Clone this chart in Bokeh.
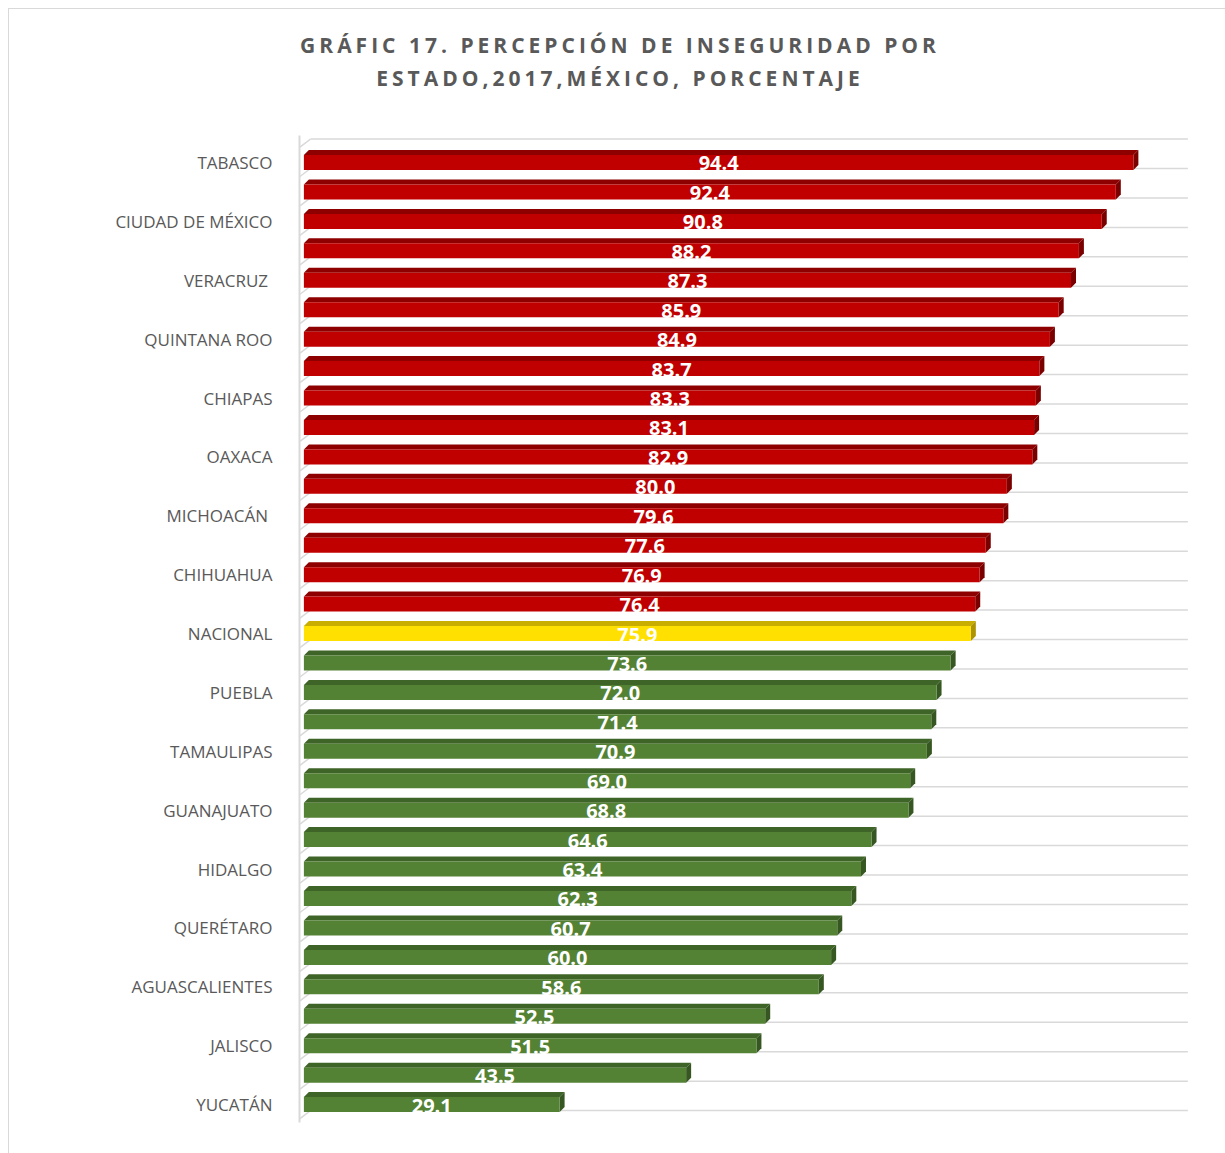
from bokeh.plotting import figure
from bokeh.models import Range1d, FixedTicker, ColumnDataSource, Div
from bokeh.layouts import column
from bokeh.core.properties import value
from bokeh.embed import file_html
from bokeh.resources import INLINE

# ---------------- data ----------------
labels = ["TABASCO", "", "CIUDAD DE MÉXICO", "", "VERACRUZ ", "", "QUINTANA ROO", "",
          "CHIAPAS", "", "OAXACA", "", "MICHOACÁN ", "", "CHIHUAHUA", "", "NACIONAL", "",
          "PUEBLA", "", "TAMAULIPAS", "", "GUANAJUATO", "", "HIDALGO", "", "QUERÉTARO", "",
          "AGUASCALIENTES", "", "JALISCO", "", "YUCATÁN"]
values = [94.4, 92.4, 90.8, 88.2, 87.3, 85.9, 84.9, 83.7, 83.3, 83.1, 82.9, 80.0, 79.6,
          77.6, 76.9, 76.4, 75.9, 73.6, 72.0, 71.4, 70.9, 69.0, 68.8, 64.6, 63.4, 62.3,
          60.7, 60.0, 58.6, 52.5, 51.5, 43.5, 29.1]
national_label = "NACIONAL"
title_lines = ["GRÁFIC 17. PERCEPCIÓN DE INSEGURIDAD POR", "ESTADO,2017,MÉXICO, PORCENTAJE"]

# ---------------- styling ----------------
RED = ("#C00000", "#8E0000", "#7A0000")
YEL = ("#FFE000", "#C9AE00", "#AD9400")
GRN = ("#548235", "#3F6428", "#375722")
TXT = "#595959"
GRID = "#D9D9D9"

W = 1212
TITLE_H = 100
H = 1039
ML, MR, MT, MB = 290, 31, 16, 36
X0, X1 = -0.5, 100.9
n = len(values)
frame_w = W - ML - MR
frame_h = H - MT - MB
pxx = frame_w / (X1 - X0)
Y_TOP = -0.917
pxy = 29.44
Y_BOT = Y_TOP + frame_h / pxy

p = figure(width=W, height=H, x_range=Range1d(X0, X1), y_range=Range1d(Y_BOT, Y_TOP),
           output_backend="svg", toolbar_location=None,
           min_border_left=ML, min_border_right=MR, min_border_top=MT, min_border_bottom=MB)
p.outline_line_color = None
p.xaxis.visible = False
p.xgrid.visible = False
p.ygrid.visible = False

ni = labels.index(national_label)
nat = values[ni]

dx = 5 / pxx
dy = 5 / pxy
ft_off = 7.5 / pxy   # half front-face height

# gridlines (back wall) and floor slants
gx0, gx1 = 0.75, 100.6
g_ys = [i + 6 / pxy for i in range(-1, n)]
p.segment(x0=[gx0] * len(g_ys), y0=g_ys, x1=[gx1] * len(g_ys), y1=g_ys,
          line_color=GRID, line_width=1.5)
p.segment(x0=[X0 + 0.05] * len(g_ys), y0=[g + 8 / pxy for g in g_ys],
          x1=[gx0] * len(g_ys), y1=g_ys, line_color=GRID, line_width=1.5)

front_c, top_c, side_c = [], [], []
for i, (lab, v) in enumerate(zip(labels, values)):
    if i == ni:
        c = YEL
    elif v > nat:
        c = RED
    else:
        c = GRN
    front_c.append(c[0]); top_c.append(c[1]); side_c.append(c[2])

ys = list(range(n))
top_xs, top_ys, side_xs, side_ys = [], [], [], []
for i, v in enumerate(values):
    ft = i - ft_off
    fb = i + ft_off
    top_xs.append([0, v, v + dx, dx])
    top_ys.append([ft, ft, ft - dy, ft - dy])
    side_xs.append([v, v + dx, v + dx, v])
    side_ys.append([ft, ft - dy, fb - dy, fb])

p.patches(xs=top_xs, ys=top_ys, fill_color=top_c, line_color=None)
p.patches(xs=side_xs, ys=side_ys, fill_color=side_c, line_color=None)
src = ColumnDataSource(dict(
    left=[0] * n, right=values,
    top=[i - ft_off for i in ys], bottom=[i + ft_off for i in ys],
    color=front_c, y=ys, xm=[v / 2 for v in values],
    txt=[f"{v:.1f}" for v in values]))
p.quad(left="left", right="right", top="top", bottom="bottom", source=src,
       fill_color="color", line_color=None)
p.text(x="xm", y="y", text="txt", source=src, text_align="center",
       text_baseline="middle", text_color="white", text_font=value("Open Sans"),
       text_font_style="bold", text_font_size="20px", y_offset=1)

# axis
ax = p.yaxis[0]
ticks = [i for i, l in enumerate(labels) if l]
ax.ticker = FixedTicker(ticks=ticks)
ax.major_label_overrides = {i: labels[i] for i in ticks}
ax.axis_line_color = GRID
ax.axis_line_width = 2
ax.major_tick_line_color = None
ax.minor_tick_line_color = None
ax.major_label_standoff = 21
ax.major_label_text_font = "Open Sans"
ax.major_label_text_font_size = "17px"
ax.major_label_text_color = TXT

# title
title_html = (
    '<div style="width:%dpx;text-align:center;font-family:\'Open Sans\';font-weight:bold;'
    'font-size:21px;line-height:33px;letter-spacing:4px;color:%s;padding-top:15px;">%s</div>'
    % (W, TXT, "<br>".join(title_lines)))
title = Div(text=title_html, width=W, height=TITLE_H)

layout = column(title, p, spacing=0, margin=(8, 0, 0, 8),
                styles={"border": "1px solid #D9D9D9"})

open("out.html", "w").write(file_html(layout, INLINE))
